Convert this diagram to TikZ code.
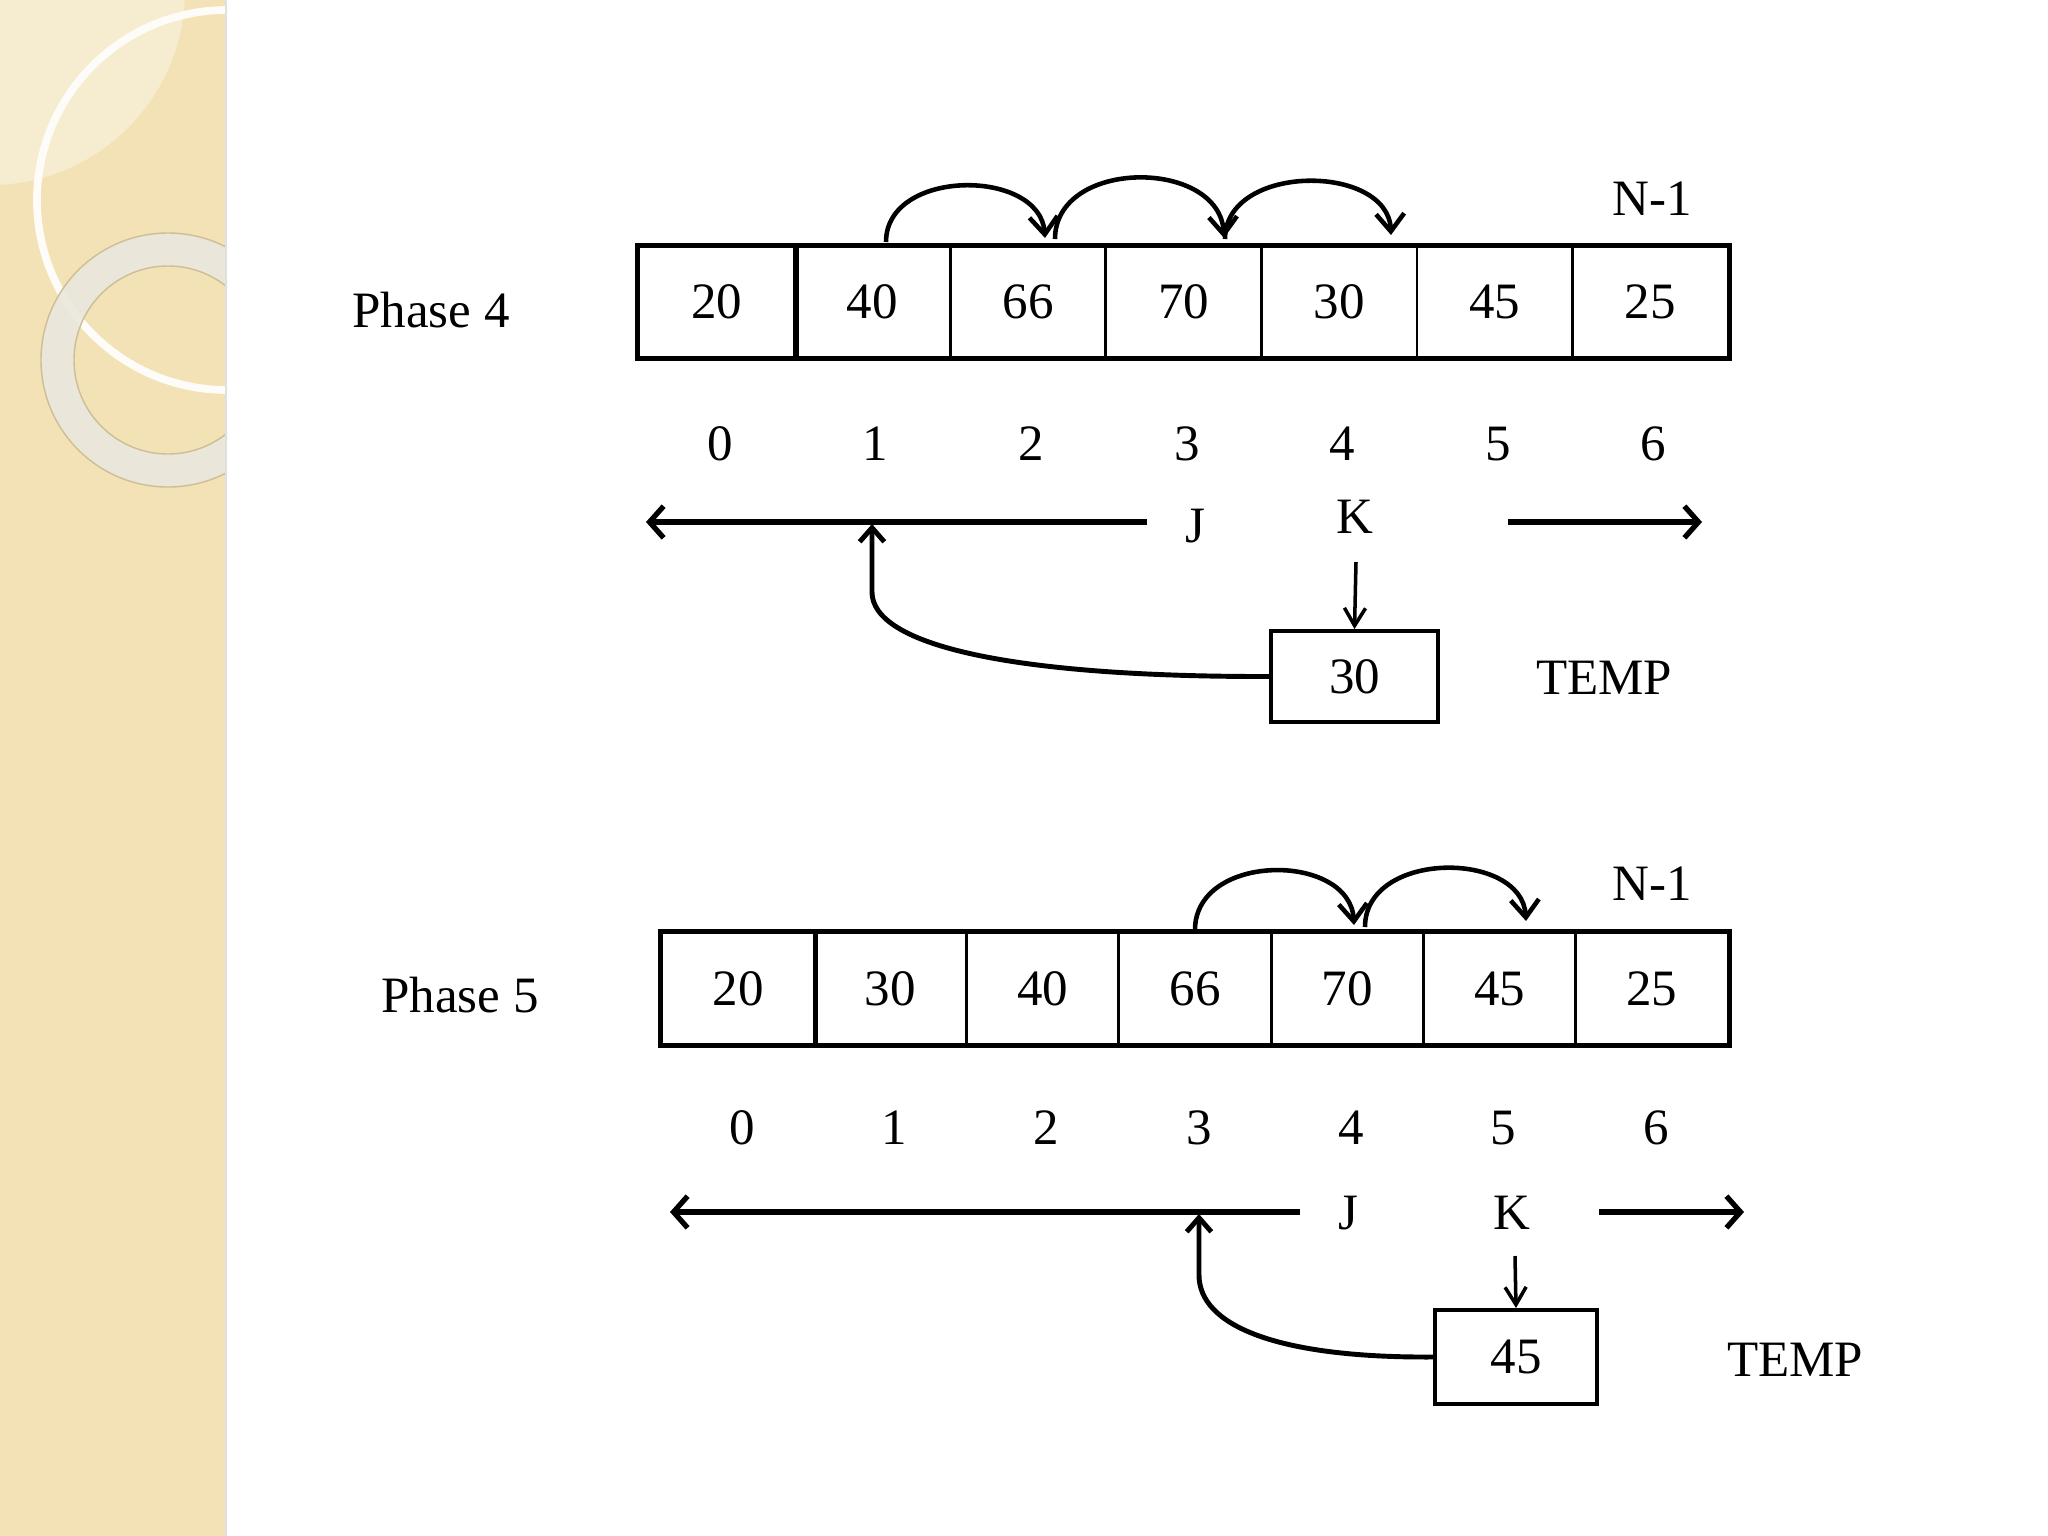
\documentclass[tikz,border=0pt]{standalone}
\usepackage{fontspec}
\setmainfont{Liberation Serif}
\usetikzlibrary{arrows.meta}
\definecolor{side}{RGB}{242,226,182}
\definecolor{ringc}{RGB}{234,231,222}
\definecolor{ringedge}{RGB}{205,190,150}
\begin{document}
\begin{tikzpicture}[x=0.01cm,y=-0.01cm,
  font=\fontsize{14.5}{17}\selectfont,
  cellbox/.style={draw,line width=0.8pt,rectangle,inner sep=0pt,minimum width=1.556cm,minimum height=1.10cm},
  cellboxb/.style={draw,line width=0.8pt,rectangle,inner sep=0pt,minimum width=1.523cm,minimum height=1.11cm},
  tempbox/.style={draw,line width=1.1pt,rectangle,inner sep=0pt},
  lbl/.style={inner sep=0pt},
  hop/.style={line width=1.3pt,-{Straight Barb[length=5pt,width=8pt]}},
  axis/.style={line width=1.5pt,-{Straight Barb[length=4pt,width=9pt]}},
  kdown/.style={line width=1pt,-{Straight Barb[length=5pt,width=6pt]}},
  back/.style={line width=1.4pt,-{Straight Barb[length=4pt,width=7pt]}}]
\useasboundingbox (0,0) rectangle (2048,1536);
\fill[white] (0,0) rectangle (2048,1536);
% sidebar
\fill[side] (0,0) rectangle (227,1536);
\begin{scope}
\clip (0,0) rectangle (227,1536);
\fill[white,opacity=0.35] (-10,-10) circle (195);
\draw[white!90!side,line width=2.2pt] (227,200) circle (190);
\fill[ringc,opacity=0.9,even odd rule] (168,360) circle (127) (168,360) circle (94);
\draw[ringedge,line width=0.4pt] (168,360) circle (127) (168,360) circle (94);
\end{scope}
\fill[black!12] (225,0) rectangle (227,1536);

% ---------------- Phase 4 ----------------
\node[lbl] (ph4) at (431,310) {Phase 4};
\foreach \v [count=\i from 0] in {20,40,66,70,30,45,25} {
  \node[cellbox] (p4c\i) at ({716.8+155.6*\i},302) {\v};
  \node[lbl] (p4i\i) at ({720+155.6*\i},444) {\i};
}
\draw[line width=1.4pt] (p4c0.north west) rectangle (p4c6.south east);
\draw[line width=1.5pt] (p4c0.north east) -- (p4c0.south east);
\node[lbl] (p4n) at (1652,199) {N-1};
% hops
\coordinate (a1s) at (886,242); \coordinate (a1e) at (1045,238);
\coordinate (a2s) at (1055,239); \coordinate (a2e) at (1224,238);
\coordinate (a3s) at (1225,239); \coordinate (a3e) at (1391,235);
\draw[hop] (a1s) .. controls (886,168) and (1040,168) .. (a1e);
\draw[hop] (a2s) .. controls (1055,158) and (1220,158) .. (a2e);
\draw[hop] (a3s) .. controls (1225,163) and (1388,163) .. (a3e);
% J K axis
\node[lbl] (p4j) at (1195,526) {J};
\node[lbl] (p4k) at (1355,517) {K};
\coordinate (p4la) at (1147,522); \coordinate (p4lb) at (646,522);
\coordinate (p4ra) at (1508,522); \coordinate (p4rb) at (1702,522);
\draw[axis] (p4la) -- (p4lb);
\draw[axis] (p4ra) -- (p4rb);
% temp
\node[tempbox,minimum width=1.67cm,minimum height=0.91cm] (p4t) at (1354.5,676.5) {30};
\node[lbl] (p4tl) at (1604,678) {TEMP};
\coordinate (p4ks) at (1356,562);
\draw[kdown] (p4ks) -- (p4t.north);
\coordinate (p4up) at (872,524);
\draw[back] (p4t.west) .. controls (1010,677) and (872,645) .. (872,592) -- (p4up);

% ---------------- Phase 5 ----------------
\node[lbl] (ph5) at (460,995) {Phase 5};
\foreach \v [count=\i from 0] in {20,30,40,66,70,45,25} {
  \node[cellboxb] (p5c\i) at ({738.15+152.3*\i},988.5) {\v};
  \node[lbl] (p5i\i) at ({742+152.3*\i},1128) {\i};
}
\draw[line width=1.4pt] (p5c0.north west) rectangle (p5c6.south east);
\draw[line width=1.5pt] (p5c0.north east) -- (p5c0.south east);
\node[lbl] (p5n) at (1652,884) {N-1};
\coordinate (b1s) at (1195,930); \coordinate (b1e) at (1354,925);
\coordinate (b2s) at (1365,927); \coordinate (b2e) at (1526,921);
\draw[hop] (b1s) .. controls (1195,852) and (1350,852) .. (b1e);
\draw[hop] (b2s) .. controls (1365,850) and (1522,850) .. (b2e);
\node[lbl] (p5j) at (1348,1213) {J};
\node[lbl] (p5k) at (1512,1213) {K};
\coordinate (p5la) at (1300,1212); \coordinate (p5lb) at (670,1212);
\coordinate (p5ra) at (1599,1212); \coordinate (p5rb) at (1744,1212);
\draw[axis] (p5la) -- (p5lb);
\draw[axis] (p5ra) -- (p5rb);
\node[tempbox,minimum width=1.62cm,minimum height=0.94cm] (p5t) at (1516,1357) {45};
\node[lbl] (p5tl) at (1795,1360) {TEMP};
\coordinate (p5ks) at (1515,1256);
\draw[kdown] (p5ks) -- (p5t.north);
\coordinate (p5up) at (1199,1214);
\draw[back] (p5t.west) .. controls (1275,1358) and (1199,1325) .. (1199,1275) -- (p5up);
\end{tikzpicture}
\end{document}
